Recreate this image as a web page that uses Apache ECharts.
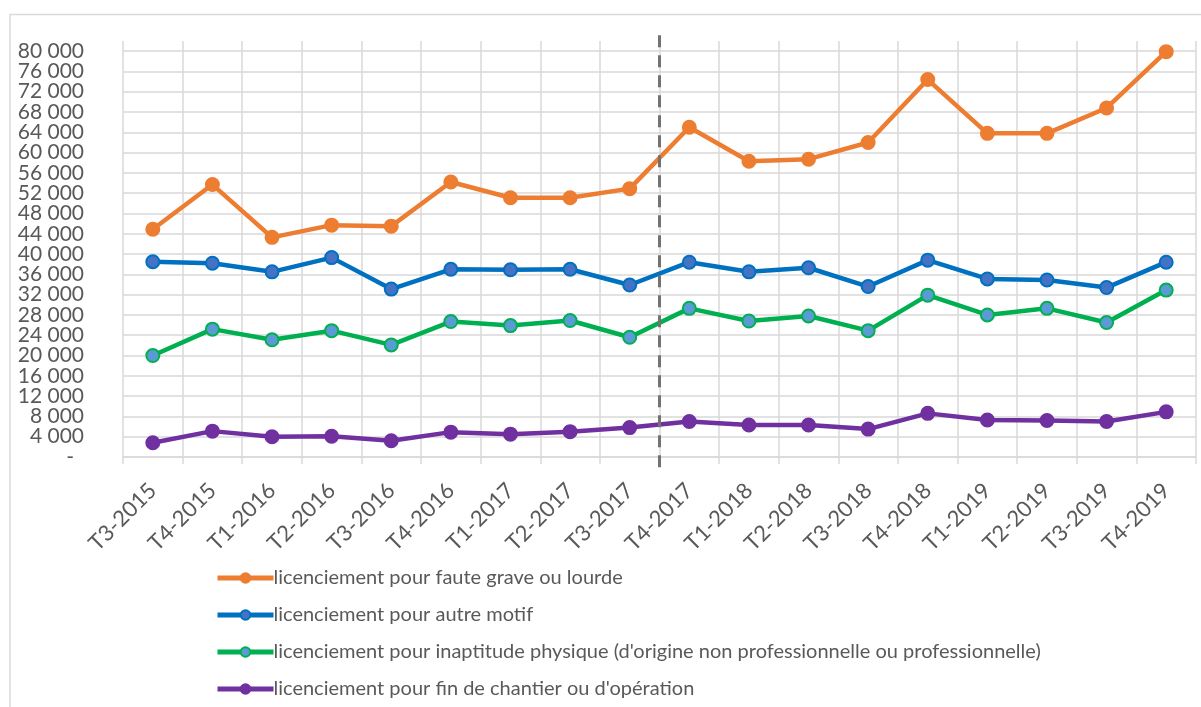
<!DOCTYPE html>
<html>
<head>
<meta charset="utf-8">
<script src="https://cdn.jsdelivr.net/npm/echarts@6/dist/echarts.min.js"></script>
<style>
  html, body { margin: 0; padding: 0; background: #fff; }
  #chart { width: 1201px; height: 707px; }
</style>
</head>
<body>
<div id="chart"></div>
<script>
const categories = ['T3-2015', 'T4-2015', 'T1-2016', 'T2-2016', 'T3-2016', 'T4-2016',
  'T1-2017', 'T2-2017', 'T3-2017', 'T4-2017', 'T1-2018', 'T2-2018', 'T3-2018',
  'T4-2018', 'T1-2019', 'T2-2019', 'T3-2019', 'T4-2019'];

const fauteGrave = [44900, 53700, 43300, 45700, 45500, 54200, 51100, 51100, 52900,
  65000, 58300, 58700, 62000, 74400, 63800, 63800, 68800, 79900];
const autreMotif = [38500, 38200, 36500, 39300, 33100, 37000, 36900, 37000, 33900,
  38400, 36500, 37300, 33600, 38800, 35100, 34900, 33400, 38400];
const inaptitude = [20000, 25200, 23100, 24900, 22100, 26700, 25900, 26900, 23600,
  29300, 26800, 27800, 24900, 31900, 28000, 29300, 26500, 32900];
const finChantier = [2800, 5100, 4000, 4100, 3200, 4900, 4500, 5000, 5800,
  7000, 6300, 6300, 5500, 8600, 7300, 7200, 7000, 8900];

const seriesNames = [
  'licenciement pour faute grave ou lourde',
  'licenciement pour autre motif',
  "licenciement pour inaptitude physique (d'origine non professionnelle ou professionnelle)",
  "licenciement pour fin de chantier ou d'opération"
];

// dashed separator sits between T3-2017 and T4-2017
const separatorIndex = categories.indexOf('T4-2017');
const separatorRange = [-2000, 83500];

const yMax = 82000;
const yStep = 4000;
const yLabelMax = 80000;

const chartDom = document.getElementById('chart');
const myChart = echarts.init(chartDom);

const textColor = '#595959';
const gridColor = '#d9d9d9';
const font = 'Lato';

// hide the extra split line drawn at the 82 000 extent
const splitColors = [];
for (let v = 0; v <= yLabelMax; v += yStep) splitColors.push(gridColor);
splitColors.push('rgba(0,0,0,0)');

function fmt(v) {
  if (v === 0 || v > yLabelMax) return '';
  return String(v).replace(/\B(?=(\d{3})+(?!\d))/g, ' ');
}

function lineSeries(name, data, line, fill, border) {
  return {
    name: name,
    type: 'line',
    data: data,
    symbol: 'circle',
    symbolSize: 13,
    lineStyle: { color: line, width: 4.5 },
    itemStyle: { color: fill, borderColor: border, borderWidth: 2 },
    emphasis: { disabled: true },
    z: 3
  };
}

const option = {
  animation: false,
  backgroundColor: '#fff',
  textStyle: { fontFamily: font },
  graphic: [
    {
      type: 'polyline',
      shape: { points: [[10, 707], [10, 14.5], [1201, 14.5]] },
      style: { stroke: gridColor, lineWidth: 1.5, fill: null },
      silent: true
    }
  ],
  grid: {
    left: 123,
    right: 5,
    top: 41,
    bottom: 250,
    containLabel: false
  },
  legend: {
    orient: 'vertical',
    left: 210,
    top: 562,
    itemWidth: 56,
    itemHeight: 12,
    itemGap: 15,
    data: seriesNames,
    lineStyle: { width: 5 },
    textStyle: { color: textColor, fontSize: 20, fontFamily: font, lineHeight: 22, padding: [0, 0, 0, -5] },
    selectedMode: false
  },
  xAxis: [
    {
      type: 'category',
      data: categories,
      boundaryGap: true,
      axisLine: { lineStyle: { color: gridColor, width: 1.5 } },
      axisTick: { show: true, length: 7, interval: 0, lineStyle: { color: gridColor, width: 1.5 } },
      splitLine: { show: true, interval: 0, lineStyle: { color: gridColor, width: 1.5 } },
      axisLabel: {
        interval: 0,
        rotate: 45,
        margin: 30,
        color: textColor,
        fontSize: 22,
        fontFamily: font
      }
    },
    {
      type: 'value',
      min: 0,
      max: categories.length,
      show: false
    }
  ],
  yAxis: [
    {
      type: 'value',
      min: 0,
      max: yMax,
      interval: yStep,
      axisLine: { show: false },
      axisTick: { show: false },
      splitLine: { show: true, lineStyle: { color: splitColors, width: 1.5 } },
      axisLabel: {
        color: textColor,
        fontSize: 21,
        fontFamily: font,
        margin: 39,
        showMinLabel: false,
        showMaxLabel: false,
        formatter: fmt
      }
    },
    {
      // only carries the "-" shown at zero
      type: 'value',
      position: 'left',
      min: 0,
      max: yMax,
      interval: yStep,
      axisLine: { show: false },
      axisTick: { show: false },
      splitLine: { show: false },
      axisLabel: {
        color: textColor,
        fontSize: 21,
        fontFamily: font,
        margin: 49,
        showMinLabel: true,
        showMaxLabel: false,
        formatter: v => (v === 0 ? '-' : '')
      }
    }
  ],
  series: [
    lineSeries(seriesNames[0], fauteGrave, '#ed7d31', '#ed7d31', '#ed7d31'),
    lineSeries(seriesNames[1], autreMotif, '#0070c0', '#4472c4', '#0070c0'),
    lineSeries(seriesNames[2], inaptitude, '#00b050', '#5b9bd5', '#00b050'),
    lineSeries(seriesNames[3], finChantier, '#7030a0', '#7030a0', '#7030a0'),
    {
      name: 'separator',
      type: 'line',
      xAxisIndex: 1,
      data: separatorRange.map(y => [separatorIndex, y]),
      symbol: 'none',
      clip: false,
      silent: true,
      lineStyle: { color: '#767171', width: 3, type: [12, 8] },
      z: 4
    }
  ]
};

option && myChart.setOption(option);
</script>
</body>
</html>
